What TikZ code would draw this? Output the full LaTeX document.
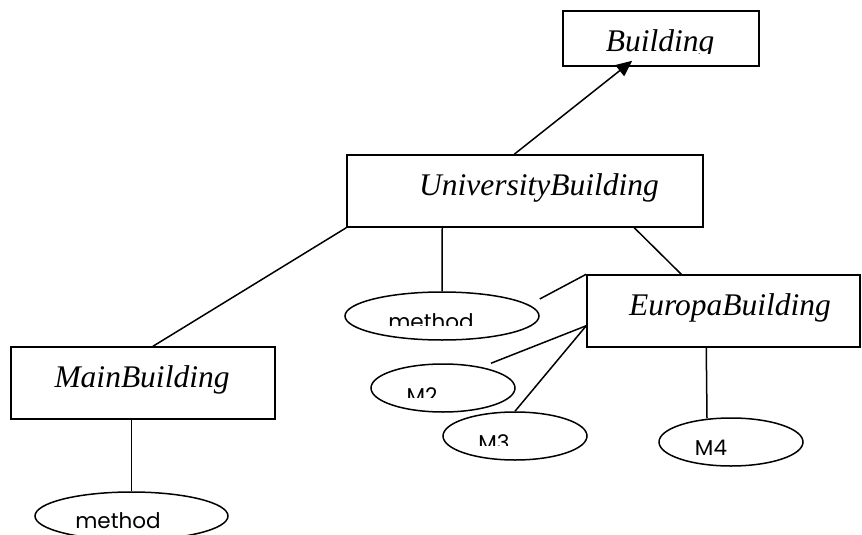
\documentclass[tikz,border=0pt]{standalone}
\usepackage{fontspec}
\setmainfont{Liberation Serif}
\newfontfamily\gothic{Poppins}
\usetikzlibrary{shapes.geometric,arrows.meta,calc}
\begin{document}
\begin{tikzpicture}[x=1pt,y=-1pt,line width=1.5pt,
  box/.style={draw,rectangle,inner sep=0pt},
  oval/.style={draw,ellipse,inner sep=0pt},
  ttl/.style={anchor=base,inner sep=0pt,font=\fontsize{31.5}{31.5}\selectfont\itshape},
  lbl/.style={anchor=base,inner sep=0pt,font=\fontsize{21.5}{21.5}\selectfont\gothic}]
\useasboundingbox (0,0) rectangle (862,535);
% boxes
\node[box,minimum width=196pt,minimum height=55pt] (b)  at (661,38.5) {};
\node[box,minimum width=356pt,minimum height=72pt] (ub) at (525,191) {};
\node[box,minimum width=264pt,minimum height=72pt] (mb) at (143,383) {};
\node[box,minimum width=273pt,minimum height=72pt] (eb) at (723.5,311) {};
% ovals
\node[oval,minimum width=194pt,minimum height=48pt] (m1) at (442,316) {};
\node[oval,minimum width=144pt,minimum height=48pt] (m2) at (443,388) {};
\node[oval,minimum width=144pt,minimum height=48pt] (m3) at (515,436) {};
\node[oval,minimum width=144pt,minimum height=48pt] (m4) at (731,442) {};
\node[oval,minimum width=193pt,minimum height=48pt] (m5) at (131.5,516) {};
% titles
\begin{scope}
  \clip (560,0) rectangle (760,54);
  \node[ttl] (tb) at (660,52) {Building};
\end{scope}
\node[ttl] (tub) at (539,195) {UniversityBuilding};
\node[ttl] (tmb) at (142,387) {MainBuilding};
\node[ttl] (teb) at (730,315) {EuropaBuilding};
% oval labels
\begin{scope}
  \clip (350,290) rectangle (540,325);
  \node[lbl] (t1) at (431,329) {method};
\end{scope}
\begin{scope}
  \clip (370,370) rectangle (515,397);
  \node[lbl] (t2) at (422,403) {M2};
\end{scope}
\begin{scope}
  \clip (440,415) rectangle (590,445);
  \node[lbl] (t3) at (494,450) {M3};
\end{scope}
\node[lbl] (t4) at (711,455) {M4};
\node[lbl] (t5) at (118,528) {method};
% connectors
\draw[-{Triangle[length=16pt,width=14pt]}] ($(ub.north west)+(168,0)$) -- ($(b.south west)+(70,-6)$);
\draw (ub.south west) -- ($(mb.north)+(10,0)$);
\draw ($(ub.south west)+(96,0)$) -- (m1.north);
\draw ($(ub.south west)+(288,0)$) -- ($(eb.north west)+(95,0)$);
\draw (eb.north west) -- ($(m1.east)+(0,-17)$);
\draw ($(eb.south west)+(0,-22)$) -- ($(m2.north)+(48,0)$);
\draw ($(eb.south west)+(0,-22)$) -- (m3.north);
\draw ($(eb.south west)+(120,0)$) -- ($(m4.north)+(-24,1)$);
\draw ($(mb.south)+(-11.5,0)$) -- (m5.north);
\end{tikzpicture}
\end{document}
